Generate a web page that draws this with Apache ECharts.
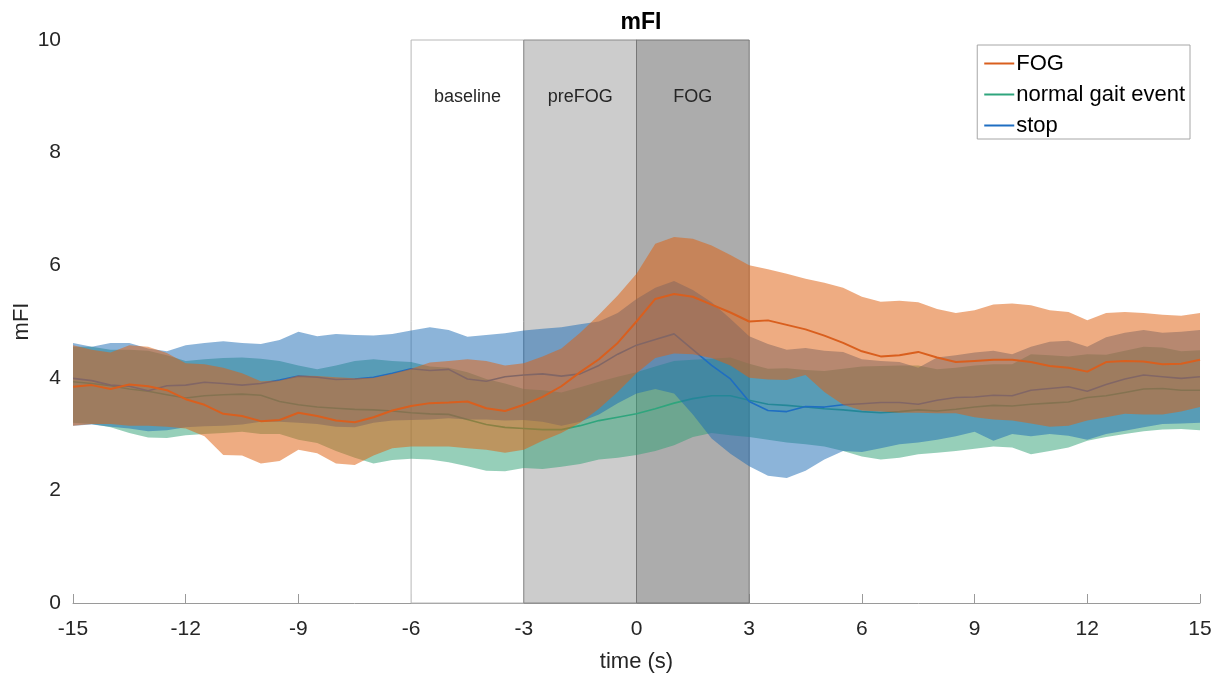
<!DOCTYPE html>
<html><head><meta charset="utf-8">
<script src="https://cdn.jsdelivr.net/npm/echarts@6/dist/echarts.min.js"></script>
<style>html,body{margin:0;padding:0;background:#fff}#c{width:1226px;height:679px}</style>
</head><body><div id="c"></div>
<script>
const T = [-15,-14.5,-14,-13.5,-13,-12.5,-12,-11.5,-11,-10.5,-10,-9.5,-9,-8.5,-8,-7.5,-7,-6.5,-6,-5.5,-5,-4.5,-4,-3.5,-3,-2.5,-2,-1.5,-1,-0.5,0,0.5,1,1.5,2,2.5,3,3.5,4,4.5,5,5.5,6,6.5,7,7.5,8,8.5,9,9.5,10,10.5,11,11.5,12,12.5,13,13.5,14,14.5,15];

const fogMean = [3.84,3.87,3.80,3.88,3.85,3.78,3.62,3.52,3.36,3.32,3.23,3.25,3.38,3.32,3.24,3.21,3.30,3.42,3.50,3.55,3.56,3.58,3.46,3.41,3.52,3.66,3.85,4.10,4.33,4.62,5.00,5.40,5.49,5.44,5.30,5.16,5.00,5.02,4.94,4.86,4.75,4.62,4.47,4.38,4.40,4.46,4.36,4.28,4.30,4.32,4.32,4.28,4.21,4.18,4.11,4.28,4.30,4.29,4.24,4.25,4.32];
const fogUpper = [4.58,4.50,4.45,4.58,4.55,4.44,4.26,4.24,4.18,4.08,3.94,3.95,4.04,4.03,4.01,3.99,4.00,4.07,4.16,4.27,4.30,4.33,4.30,4.22,4.26,4.38,4.52,4.80,5.12,5.46,5.85,6.38,6.50,6.47,6.35,6.18,6.00,5.93,5.85,5.76,5.69,5.60,5.44,5.35,5.37,5.34,5.22,5.15,5.20,5.30,5.32,5.29,5.20,5.17,5.02,5.15,5.17,5.15,5.12,5.10,5.15];
const fogLower = [3.15,3.18,3.18,3.15,3.15,3.13,3.10,2.96,2.63,2.62,2.48,2.52,2.72,2.66,2.48,2.45,2.62,2.75,2.78,2.78,2.78,2.75,2.72,2.67,2.72,2.88,3.02,3.20,3.45,3.75,4.08,4.35,4.43,4.42,4.35,4.22,4.00,3.97,3.96,4.05,3.75,3.52,3.42,3.40,3.38,3.38,3.37,3.37,3.30,3.26,3.24,3.19,3.13,3.15,3.24,3.30,3.36,3.35,3.35,3.40,3.48];

const gaitMean = [3.93,3.90,3.86,3.80,3.76,3.70,3.64,3.68,3.70,3.71,3.69,3.58,3.52,3.48,3.46,3.44,3.43,3.41,3.38,3.36,3.35,3.26,3.17,3.12,3.10,3.08,3.08,3.15,3.24,3.30,3.36,3.45,3.55,3.63,3.68,3.68,3.60,3.53,3.51,3.48,3.45,3.43,3.40,3.38,3.40,3.43,3.41,3.44,3.48,3.51,3.50,3.53,3.55,3.57,3.65,3.68,3.74,3.80,3.81,3.78,3.78];
const gaitUpper = [4.55,4.55,4.50,4.50,4.48,4.40,4.30,4.33,4.35,4.36,4.34,4.30,4.22,4.15,4.22,4.30,4.33,4.30,4.28,4.20,4.18,4.10,3.98,3.90,3.80,3.78,3.74,3.83,3.93,4.02,4.10,4.20,4.30,4.32,4.34,4.36,4.25,4.16,4.17,4.14,4.12,4.16,4.20,4.21,4.22,4.22,4.15,4.18,4.22,4.24,4.24,4.42,4.40,4.38,4.42,4.41,4.48,4.55,4.54,4.47,4.49];
const gaitLower = [3.20,3.18,3.12,3.02,2.94,2.93,2.98,3.00,3.02,3.04,3.00,3.00,2.90,2.84,2.70,2.58,2.48,2.54,2.56,2.55,2.50,2.43,2.35,2.34,2.40,2.38,2.42,2.47,2.55,2.58,2.63,2.70,2.80,2.95,3.02,2.98,2.95,2.90,2.85,2.82,2.78,2.70,2.60,2.55,2.58,2.64,2.67,2.70,2.74,2.78,2.76,2.64,2.70,2.76,2.88,2.95,3.00,3.05,3.08,3.09,3.07];

const stopMean = [3.99,3.95,3.87,3.85,3.77,3.86,3.87,3.92,3.90,3.87,3.90,3.96,4.03,4.01,3.97,3.98,4.01,4.08,4.16,4.13,4.15,3.98,3.94,4.02,4.05,4.07,4.03,4.07,4.22,4.42,4.58,4.68,4.78,4.50,4.22,3.98,3.58,3.42,3.40,3.49,3.48,3.52,3.54,3.56,3.56,3.53,3.60,3.65,3.66,3.69,3.68,3.78,3.81,3.84,3.76,3.88,3.98,4.05,4.02,3.99,4.02];
const stopUpper = [4.62,4.55,4.62,4.62,4.52,4.47,4.58,4.62,4.65,4.62,4.60,4.67,4.82,4.74,4.78,4.76,4.75,4.78,4.84,4.90,4.85,4.73,4.76,4.79,4.84,4.87,4.90,4.95,5.00,5.15,5.40,5.60,5.72,5.56,5.34,5.05,4.74,4.60,4.50,4.53,4.48,4.46,4.33,4.30,4.28,4.18,4.36,4.40,4.45,4.48,4.42,4.55,4.64,4.66,4.55,4.72,4.80,4.85,4.80,4.82,4.85];
const stopLower = [3.15,3.17,3.13,3.10,3.05,3.07,3.12,3.14,3.15,3.17,3.22,3.22,3.20,3.18,3.13,3.12,3.20,3.24,3.25,3.26,3.28,3.26,3.26,3.24,3.25,3.22,3.15,3.22,3.35,3.55,3.72,3.80,3.72,3.35,2.92,2.65,2.43,2.26,2.22,2.35,2.55,2.70,2.68,2.75,2.82,2.85,2.90,2.96,3.04,2.88,3.00,2.96,3.00,2.97,2.90,3.00,3.06,3.12,3.18,3.19,3.20];

const phaseNames = ['baseline','preFOG','FOG'];
const phaseStart = [-6,-3,0];
const phaseEnd = [-3,0,3];
const xTicks = {min:-15, max:15, interval:3};
const yTicks = {min:0, max:10, interval:2};

const FONT = "'Liberation Sans', Arial, sans-serif";
const chart = echarts.init(document.getElementById('c'), null, {renderer:'canvas'});

function pairs(v){ return T.map((t,i)=>[t, v[i]]); }
function band(name, up, lo, fill, z){
  return {
    type:'custom', name: name, z: z, silent: true, clip: true,
    data: [[0,5]], encode: {x:0, y:1},
    renderItem: function(params, api){
      const pts = [];
      for (let i = 0; i < T.length; i++) pts.push(api.coord([T[i], up[i]]));
      for (let i = T.length - 1; i >= 0; i--) pts.push(api.coord([T[i], lo[i]]));
      return {type:'polygon', shape:{points: pts}, style:{fill: fill, stroke: null}};
    }
  };
}
function meanLine(name, v, color, z, w){
  return {type:'line', name: name, z: z, data: pairs(v), symbol:'none', showSymbol:false,
    silent:true, lineStyle:{color: color, width: w}, itemStyle:{color: color}};
}

const phaseStyles = [
  {color:'#ffffff', borderColor:'#b8b8b8'},
  {color:'#cccccc', borderColor:'#8a8a8a'},
  {color:'#acacac', borderColor:'#777777'}
];

const option = {
  animation: false,
  backgroundColor: '#ffffff',
  title: {text:'mFI', left: 636, top: 6, textAlign:'center',
    textStyle:{fontFamily: FONT, fontSize: 23, fontWeight:'bold', color:'#000'}},
  grid: {left: 73, right: 26, top: 40, bottom: 76, containLabel: false, outerBoundsMode: 'none'},
  legend: {
    orient:'vertical', right: 36, top: 45, data: ['FOG','normal gait event','stop'],
    icon:'rect', itemWidth: 30, itemHeight: 2, itemGap: 8,
    backgroundColor:'#fff', borderColor:'#a6a6a6', borderWidth:1, borderRadius:0,
    padding:[7,5,2,7], z: 20,
    textStyle:{fontFamily: FONT, fontSize: 22, lineHeight: 23, color:'#000', padding:[0,0,0,-3]}
  },
  xAxis: {
    type:'value', min: xTicks.min, max: xTicks.max, interval: xTicks.interval,
    name:'time (s)', nameLocation:'middle', nameGap: 48,
    nameTextStyle:{fontFamily: FONT, fontSize: 22, color:'#262626'},
    axisLine:{show:true, onZero:false, lineStyle:{color:'#9a9a9a', width:1}},
    axisTick:{show:true, inside:true, length:9, lineStyle:{color:'#9a9a9a'}},
    axisLabel:{fontFamily: FONT, fontSize: 21, color:'#262626', margin: 16},
    splitLine:{show:false}
  },
  yAxis: {
    type:'value', min: yTicks.min, max: yTicks.max, interval: yTicks.interval,
    name:'mFI', nameLocation:'middle', nameGap: 40, nameRotate: 90, nameMoveOverlap: false,
    nameTextStyle:{fontFamily: FONT, fontSize: 22, color:'#262626'},
    axisLine:{show:true, lineStyle:{color:'#9a9a9a', width:1}},
    axisTick:{show:true, inside:true, length:9, lineStyle:{color:'#9a9a9a'}},
    axisLabel:{fontFamily: FONT, fontSize: 21, color:'#262626', margin: 12},
    splitLine:{show:false}
  },
  series: [
    {
      type:'line', name:'phases', z: 1, silent: true, symbol:'none',
      data: [[xTicks.min, yTicks.min]], lineStyle:{width:0, opacity:0},
      markArea: {
        silent: true,
        label: {show:true, position:'insideTop', distance: 49,
          fontFamily: FONT, fontSize: 18, color:'#262626'},
        data: phaseNames.map((n,i)=>[
          {name: n, xAxis: phaseStart[i], yAxis: yTicks.min,
           itemStyle:{color: phaseStyles[i].color, borderColor: phaseStyles[i].borderColor, borderWidth: 1}},
          {xAxis: phaseEnd[i], yAxis: yTicks.max}
        ])
      }
    },
    band('gaitBand', gaitUpper, gaitLower, 'rgba(45,160,115,0.5)', 2),
    meanLine('normal gait event', gaitMean, '#2fa57d', 3, 1.6),
    band('stopBand', stopUpper, stopLower, 'rgba(25,105,180,0.5)', 4),
    meanLine('stop', stopMean, '#1f6ec2', 5, 1.6),
    band('fogBand', fogUpper, fogLower, 'rgba(222,95,15,0.52)', 6),
    meanLine('FOG', fogMean, '#d95f1e', 7, 2)
  ]
};
chart.setOption(option);
</script>
</body></html>
